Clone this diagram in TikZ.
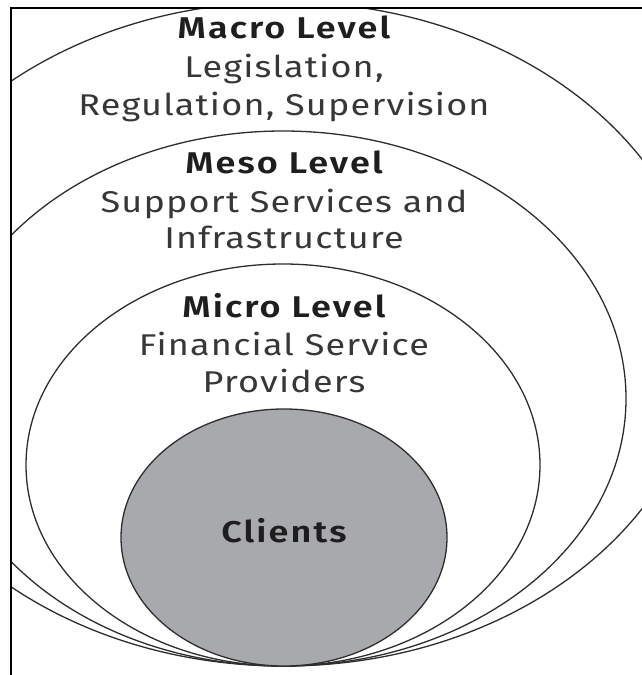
\documentclass[tikz,border=0pt]{standalone}
\usepackage{fontspec}
\setmainfont{Fira Sans}
\newfontfamily\bodyfont[FakeStretch=1.2, LetterSpace=4]{Fira Sans}
\newfontfamily\headfont[FakeStretch=1.2, LetterSpace=7]{Fira Sans SemiBold}
\usetikzlibrary{shapes.geometric}
\definecolor{ringline}{RGB}{45,45,45}
\definecolor{clientfill}{RGB}{168,169,173}
\definecolor{txt}{RGB}{55,55,55}
\definecolor{boldtxt}{RGB}{30,30,30}
\tikzset{
  ring/.style={draw=ringline, line width=1.3pt},
  frameline/.style={draw=black, line width=2.4pt},
  head/.style={anchor=base, inner sep=0pt, text=boldtxt, font=\fontsize{30}{36}\headfont},
  body/.style={anchor=base, inner sep=0pt, text=txt, font=\fontsize{30}{36}\bodyfont},
}
\begin{document}
\begin{tikzpicture}[x=1pt,y=-1pt]
\useasboundingbox (0,0) rectangle (642,675);
\begin{scope}
  \clip (11,8) rectangle (642,675);
  \draw[ring] (284,334) ellipse [x radius=421, y radius=332];
  \draw[ring] (283,398.5) ellipse [x radius=343, y radius=267.5];
  \draw[ring] (283,465) ellipse [x radius=257, y radius=201];
  \draw[ring, fill=clientfill] (284,537.5) ellipse [x radius=163, y radius=128.5];
\end{scope}
\draw[frameline] (11,675) -- (11,8) -- (642,8);
% Macro
\node[head] (mac1) at (284,38) {Macro Level};
\node[body] (mac2) at (284,77) {Legislation,};
\node[body] (mac3) at (284,115) {Regulation, Supervision};
% Meso
\node[head] (mes1) at (284,173) {Meso Level};
\node[body] (mes2) at (284,212) {Support Services and};
\node[body] (mes3) at (284,248) {Infrastructure};
% Micro
\node[head] (mic1) at (284,317) {Micro Level};
\node[body] (mic2) at (284,355) {Financial Service};
\node[body] (mic3) at (284,392) {Providers};
% Clients
\node[head] (cli) at (284,542) {Clients};
\end{tikzpicture}
\end{document}
